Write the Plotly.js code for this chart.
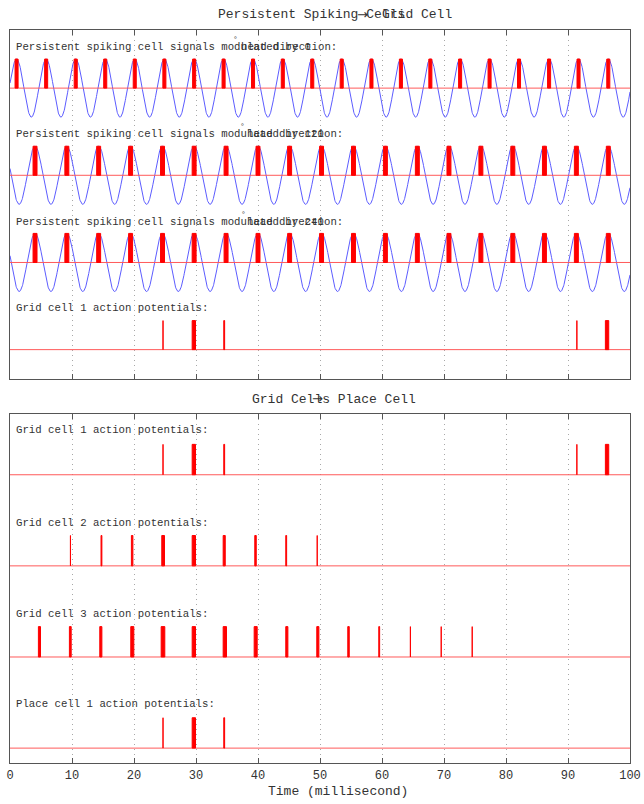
<!DOCTYPE html>
<html><head><meta charset="utf-8">
<script src="https://cdn.plot.ly/plotly-3.0.1.min.js"></script>
<style>html,body{margin:0;padding:0;background:#fff}#chart{width:644px;height:804px}</style>
</head><body><div id="chart"></div>
<script>
// ---------------- data ----------------
const timeRange = [0, 100];
const tickValues = [0, 10, 20, 30, 40, 50, 60, 70, 80, 90, 100];

// sine-wave peak times (ms) of the three persistent spiking signals
const peaksDir0   = [1.06, 5.83, 10.6, 15.36, 20.12, 24.9, 29.7, 34.45, 39.2, 44.0, 48.75, 53.5, 58.3, 63.05, 67.8, 72.6, 77.35, 82.1, 86.95, 91.7, 96.5];
const peaksDir120 = [4.04, 9.17, 14.3, 19.45, 24.6, 29.7, 34.85, 40.0, 45.1, 50.25, 55.4, 60.55, 65.7, 70.8, 75.95, 81.1, 86.2, 91.35, 96.5];
const peaksDir240 = [4.04, 9.17, 14.3, 19.45, 24.6, 29.7, 34.85, 40.0, 45.1, 50.25, 55.4, 60.55, 65.7, 70.8, 75.95, 81.1, 86.2, 91.35, 96.5];
const burstWidth  = [0.65, 0.8, 0.8];   // ms, width of spike burst at each peak

// action potentials: start / end time (ms)
const grid1Start = [24.6, 29.3, 34.4, 91.35, 95.95];
const grid1End   = [24.85, 30.0, 34.7, 91.55, 96.65];
const grid2Start = [9.7, 14.6, 19.5, 24.4, 29.3, 34.3, 39.4, 44.4, 49.5];
const grid2End   = [9.8, 14.9, 19.9, 25.0, 30.0, 34.8, 39.8, 44.7, 49.6];
const grid3Start = [4.5, 9.5, 14.4, 19.4, 24.3, 29.3, 34.3, 39.3, 44.4, 49.4, 54.4, 59.4, 64.5, 69.5, 74.5];
const grid3End   = [5.0, 9.95, 14.9, 20.05, 25.05, 30.0, 35.0, 39.95, 44.9, 49.9, 54.8, 59.7, 64.7, 69.6, 74.6];
const place1Start = [24.6, 29.3, 34.4];
const place1End   = [24.85, 30.0, 34.7];

const topLabels = [
  ["Persistent spiking cell signals modulated by 0", "head direction:"],
  ["Persistent spiking cell signals modulated by 120", "head direction:"],
  ["Persistent spiking cell signals modulated by 240", "head direction:"],
  ["Grid cell 1 action potentials:", ""]
];
const bottomLabels = ["Grid cell 1 action potentials:", "Grid cell 2 action potentials:",
                      "Grid cell 3 action potentials:", "Place cell 1 action potentials:"];
const titleTop = ["Persistent Spiking Cells", "Grid Cell"];
const titleBottom = ["Grid Cells Place Cell"];
const arrowGlyph = "\u2192";
const xAxisTitle = "Time (millisecond)";

// ---------------- layout helpers ----------------
const W = 644, H = 804;
const px = x => x / W;
const py = y => 1 - y / H;
const rowOffsets = [0, -3, -6, -9];
const MONO = "Liberation Mono, Courier New, monospace";
const TXT = "#333";

function waveFromPeaks(peaks) {
  const xs = [], ys = [];
  const n = peaks.length;
  for (let t = timeRange[0]; t <= timeRange[1] + 1e-9; t += 0.05) {
    let y;
    if (t <= peaks[0]) {
      y = Math.cos(2 * Math.PI * (t - peaks[0]) / (peaks[1] - peaks[0]));
    } else if (t >= peaks[n - 1]) {
      y = Math.cos(2 * Math.PI * (t - peaks[n - 1]) / (peaks[n - 1] - peaks[n - 2]));
    } else {
      let i = 0;
      while (!(t >= peaks[i] && t <= peaks[i + 1])) i++;
      y = Math.cos(2 * Math.PI * (t - peaks[i]) / (peaks[i + 1] - peaks[i]));
    }
    xs.push(+t.toFixed(3)); ys.push(y);
  }
  return [xs, ys];
}

const traces = [];
function baseline(off, xa, ya) {
  traces.push({type: "scatter", mode: "lines", x: timeRange, y: [off, off], xaxis: xa, yaxis: ya,
    line: {color: "#ff5a5a", width: 1}, hoverinfo: "skip"});
}
// spikes drawn as filled rectangles (scatter, so they sit above the sine wave)
function spikes(starts, ends, off, xa, ya) {
  const xs = [], ys = [];
  const shrink = 0.08; // half of the 1px outline, in ms
  starts.forEach((s, i) => {
    let a = s + shrink, b = ends[i] - shrink;
    if (b < a) { const m = (s + ends[i]) / 2; a = m; b = m; }
    xs.push(a, a, b, b, a, null);
    ys.push(off, off + 1, off + 1, off, off, null);
  });
  traces.push({type: "scatter", mode: "lines", x: xs, y: ys, xaxis: xa, yaxis: ya,
    fill: "toself", fillcolor: "#ff0000", line: {color: "#ff0000", width: 1}, hoverinfo: "skip"});
}

// top panel
[peaksDir0, peaksDir120, peaksDir240].forEach((pk, r) => {
  const off = rowOffsets[r];
  const [xs, ys] = waveFromPeaks(pk);
  traces.push({type: "scatter", mode: "lines", x: xs, y: ys.map(v => v + off), xaxis: "x", yaxis: "y",
    line: {color: "#5c5cff", width: 1}, hoverinfo: "skip"});
  baseline(off, "x", "y");
  spikes(pk.map(p => p - burstWidth[r] / 2), pk.map(p => p + burstWidth[r] / 2), off, "x", "y");
});
baseline(rowOffsets[3], "x", "y");
spikes(grid1Start, grid1End, rowOffsets[3], "x", "y");

// bottom panel
[[grid1Start, grid1End], [grid2Start, grid2End], [grid3Start, grid3End], [place1Start, place1End]]
  .forEach(([s, e], r) => {
    baseline(rowOffsets[r], "x2", "y2");
    spikes(s, e, rowOffsets[r], "x2", "y2");
  });

// annotations
const ann = [];
function txt(text, x, y, size, extra) {
  ann.push(Object.assign({text: text, x: px(x), y: py(y), xref: "paper", yref: "paper",
    xanchor: "left", yanchor: "middle", showarrow: false,
    font: {family: MONO, size: size, color: TXT}}, extra || {}));
}
const LBL = 10.7, CW = LBL * 0.6, X0 = 14;
const topTextY = [46.7, 134, 221.7, 308.5];
const headIdx = [35, 36, 36];
const degX = [234, 241, 242];
topLabels.forEach((l, r) => {
  txt(l[0], X0, topTextY[r], LBL);
  if (l[1]) {
    txt(l[1], X0 + headIdx[r] * CW, topTextY[r], LBL);
    txt("\u00b0", degX[r] - 3, topTextY[r] - 7.5, 8);
  }
});
const botTextY = [430.5, 522.7, 613.5, 704];
bottomLabels.forEach((l, r) => txt(l, X0, botTextY[r], LBL));

const TS = 13, TCW = TS * 0.6;
const arrowFont = {family: "DejaVu Sans, sans-serif", size: 13, color: TXT};
txt(titleTop[0], 216, 14.7, TS);
txt(arrowGlyph, 216 + 18 * TCW - 1, 14.2, TS, {font: arrowFont});
txt(titleTop[1], 216 + 21 * TCW, 14.7, TS);
txt(titleBottom[0], 250, 399.3, TS);
txt(arrowGlyph, 250 + 8 * TCW - 2, 398.8, TS, {font: arrowFont});
txt(xAxisTitle, 266, 791.5, TS);

const xCommon = {range: timeRange, tickvals: tickValues, ticks: "inside", ticklen: 5, tickwidth: 1,
  tickcolor: "#555", showgrid: true, gridcolor: "#a8a8a8", griddash: "1px,4px", gridwidth: 1,
  showline: true, linecolor: "#555", linewidth: 1, mirror: "ticks", zeroline: false,
  fixedrange: true, domain: [px(10), px(630)]};
const yCommon = {showticklabels: false, ticks: "", showgrid: false, zeroline: false,
  showline: true, linecolor: "#555", linewidth: 1, mirror: true, fixedrange: true};

const layout = {
  width: W, height: H, margin: {l: 0, r: 0, t: 0, b: 0},
  paper_bgcolor: "#fff", plot_bgcolor: "#fff", showlegend: false,
  xaxis: Object.assign({}, xCommon, {anchor: "y", showticklabels: false}),
  yaxis: Object.assign({}, yCommon, {anchor: "x", range: [-10, 2], domain: [py(378.7), py(30)]}),
  xaxis2: Object.assign({}, xCommon, {anchor: "y2", showticklabels: true,
    tickfont: {family: MONO, size: 12, color: TXT}}),
  yaxis2: Object.assign({}, yCommon, {anchor: "x2", range: [-9.5, 2], domain: [py(763.3), py(414)]}),
  annotations: ann
};

Plotly.newPlot("chart", traces, layout, {staticPlot: true, displayModeBar: false});
</script>
</body></html>
